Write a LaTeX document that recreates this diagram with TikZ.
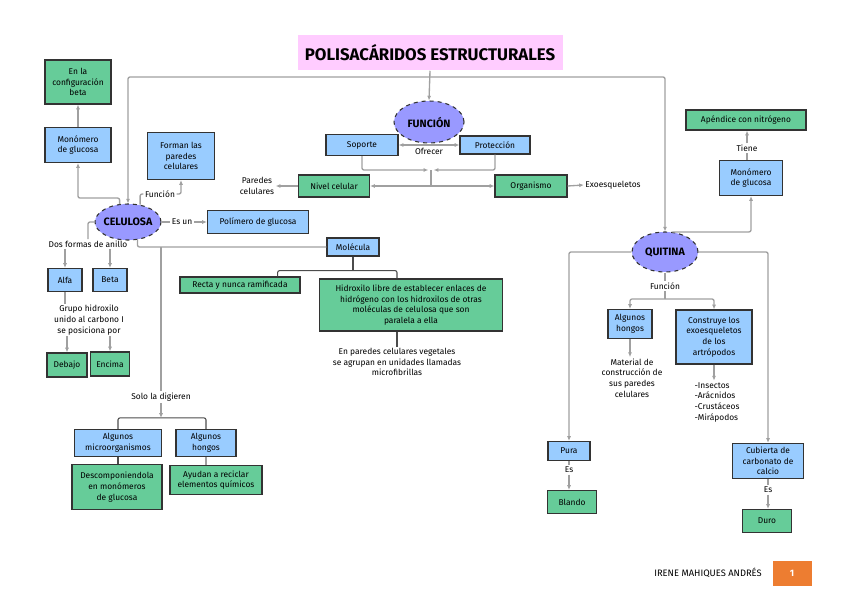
\documentclass[tikz,border=0pt]{standalone}
\usepackage{fontspec}
\setmainfont{Fira Sans}
\usetikzlibrary{positioning,shapes.geometric,arrows.meta}

\definecolor{azul}{HTML}{99CCFF}
\definecolor{verde}{HTML}{66CC99}
\definecolor{lila}{HTML}{9999FF}
\definecolor{rosa}{HTML}{FFCCFF}
\definecolor{naranja}{HTML}{ED7D31}
\definecolor{linea}{HTML}{A0A0A0}

\tikzset{
  caja/.style={draw=black!80, line width=0.9pt, rectangle, align=center, inner sep=1pt, font=\fontsize{6.3}{8}\selectfont},
  azulbox/.style={caja, fill=azul},
  verdebox/.style={caja, fill=verde},
  elipse/.style={ellipse, draw=black!80, dashed, line width=0.8pt, fill=lila, inner sep=0pt, font=\fontsize{8}{9}\selectfont\bfseries},
  etiqueta/.style={align=center, inner sep=1pt, font=\fontsize{6.3}{8}\selectfont},
  conector/.style={draw=linea, line width=1pt, rounded corners=1.5pt},
  oscuro/.style={conector, draw=black!70, line width=0.8pt},
  flecha/.style={conector, -{Latex[length=3.5pt,width=3pt]}},
  dflecha/.style={conector, {Latex[length=3.5pt,width=3pt]}-{Latex[length=3.5pt,width=3pt]}},
}

\begin{document}
\begin{tikzpicture}[x=0.75pt, y=-0.75pt]
    \useasboundingbox (0,0) rectangle (848,599);

    % Title
    \node[fill=rosa, minimum width=198.75pt, minimum height=26.25pt, font=\fontsize{12.6}{13}\selectfont\bfseries] (title) at (430,53) {POLISACÁRIDOS ESTRUCTURALES};

    % Function
    \node[elipse, minimum width=52.5pt, minimum height=31.5pt] (funcion) at (429,122) {\makebox[0pt]{FUNCIÓN}};
    \node[azulbox, minimum width=54pt, minimum height=15.75pt] (soporte) at (362,145) {Soporte};
    \node[azulbox, minimum width=52.5pt, minimum height=13.5pt] (proteccion) at (495,145) {Protección};
    \node[verdebox, minimum width=53.25pt, minimum height=16.5pt] (nivel) at (334,186) {Nivel celular};
    \node[verdebox, minimum width=54pt, minimum height=16.5pt] (organismo) at (531,186) {Organismo};
    \node[etiqueta] (paredes) at (257,186) {Paredes\\celulares};
    \node[etiqueta] (exoesq) at (613,185) {Exoesqueletos};

    % Cellulose
    \node[elipse, minimum width=49.5pt, minimum height=27pt] (celulosa) at (128,222) {\makebox[0pt]{CELULOSA}};
    \node[azulbox, minimum width=49.5pt, minimum height=26.25pt] (monoC) at (78,145) {Monómero\\de glucosa};
    \node[verdebox, minimum width=49.5pt, minimum height=33pt] (configbeta) at (78,82) {En la\\configuración\\beta};
    \node[azulbox, minimum width=50.25pt, minimum height=35.25pt] (forman) at (181,156) {Forman las\\paredes\\celulares};
    \node[etiqueta] (funcionC) at (160,194) {Función};
    \node[etiqueta] (esun) at (182,222) {Es un};
    \node[azulbox, minimum width=75.75pt, minimum height=17.25pt] (polimero) at (258,222) {Polímero de glucosa};

    % Molecule
    \node[azulbox, minimum width=39pt, minimum height=13.5pt] (molecula) at (353,247) {Molécula};
    \node[verdebox, minimum width=90pt, minimum height=12pt] (recta) at (240,285) {Recta y nunca ramificada};
    \node[verdebox, minimum width=137.25pt, minimum height=39pt] (hidroxilo) at (411,305) {Hidroxilo libre de establecer enlaces de\\hidrógeno con los hidroxilos de otras\\moléculas de celulosa que son\\paralela a ella};
    \node[etiqueta] (microfib) at (397,362) {En paredes celulares vegetales\\se agrupan en unidades llamadas\\microfibrillas};

    % Ring forms
    \node[etiqueta] (anillo) at (88,244) {Dos formas de anillo};
    \node[azulbox, minimum width=25.5pt, minimum height=17.25pt] (alfa) at (65,280) {Alfa};
    \node[azulbox, minimum width=25.5pt, minimum height=17.25pt] (betaB) at (110,280) {Beta};
    \node[etiqueta] (grupo) at (89,320) {Grupo hidroxilo\\unido al carbono I\\se posiciona por};
    \node[verdebox, minimum width=30pt, minimum height=18pt] (debajo) at (67,365) {Debajo};
    \node[verdebox, minimum width=29.25pt, minimum height=18pt] (encima) at (110,364) {Encima};

    % Digestion
    \coordinate (bajada) at (161,247);
    \node[etiqueta] (digieren) at (161,397) {Solo la digieren};
    \node[azulbox, minimum width=65.25pt, minimum height=20.25pt] (micro) at (118,443) {Algunos\\microorganismos};
    \node[azulbox, minimum width=45pt, minimum height=20.25pt] (hongosC) at (206,443) {Algunos\\hongos};
    \node[verdebox, minimum width=67.5pt, minimum height=33.75pt] (descomp) at (117,487) {Descomponiendola\\en monómeros\\de glucosa};
    \node[verdebox, minimum width=69pt, minimum height=21.75pt] (reciclar) at (216,480) {Ayudan a reciclar\\elementos químicos};

    % Chitin
    \node[elipse, minimum width=49.5pt, minimum height=30pt] (quitina) at (665,252) {\makebox[0pt]{QUITINA}};
    \node[azulbox, minimum width=47.25pt, minimum height=26.25pt] (monoQ) at (751,178) {Monómero\\de glucosa};
    \node[etiqueta] (tiene) at (747,148) {Tiene};
    \node[verdebox, minimum width=90pt, minimum height=15pt] (apendice) at (746,120) {Apéndice con nitrógeno};
    \node[etiqueta] (funcionQ) at (665,286) {Función};
    \node[azulbox, minimum width=33pt, minimum height=21.75pt] (hongosQ) at (630,324) {Algunos\\hongos};
    \node[azulbox, minimum width=57pt, minimum height=40.5pt] (construye) at (714,337) {Construye los\\exoesqueletos\\de los\\artrópodos};
    \node[etiqueta] (material) at (632,378) {Material de\\construcción de\\sus paredes\\celulares};
    \node[etiqueta, align=left] (artropodos) at (717,402) {-Insectos\\-Arácnidos\\-Crustáceos\\-Mirápodos};
    \node[azulbox, minimum width=31.5pt, minimum height=14.25pt] (pura) at (569,451) {Pura};
    \node[etiqueta] (esP) at (569,470) {Es};
    \node[verdebox, minimum width=36.75pt, minimum height=17.25pt] (blando) at (572,502) {Blando};
    \node[azulbox, minimum width=53.25pt, minimum height=26.25pt] (cubierta) at (768,461) {Cubierta de\\carbonato de\\calcio};
    \node[etiqueta] (esC) at (768,490) {Es};
    \node[verdebox, minimum width=36.75pt, minimum height=17.25pt] (duro) at (767,521) {Duro};

    % Footer
    \node[font=\fontsize{7}{8}\selectfont] (autor) at (708,573) {IRENE MAHIQUES ANDRÉS};
    \node[fill=naranja, text=white, minimum width=29.25pt, minimum height=18.75pt, font=\fontsize{7}{8}\selectfont\bfseries] (pagina) at (792,573) {1};

    % Arrows
    \coordinate (ramal) at (430,77);
    \draw[flecha] (title.south) -- (funcion.north);
    \draw[flecha] (ramal) -| (celulosa.north);
    \draw[flecha] (ramal) -| (quitina.north);
    \draw[dflecha] (soporte) -- (proteccion) node[midway, below=1pt, etiqueta] (ofrecer) {Ofrecer};
    \coordinate (junta) at (431,170);
    \coordinate (cruce) at (431,186);
    \draw[flecha] (soporte.south) |- ([xshift=-2pt]junta);
    \draw[flecha] (proteccion.south) |- ([xshift=2pt]junta);
    \draw[conector] (junta) -- (cruce);
    \draw[dflecha] (nivel) -- (organismo);
    \draw[flecha] (nivel.west) -- (paredes.east);
    \draw[flecha] (organismo.east) -- (exoesq.west);

    \draw[flecha] (celulosa.115) -- ++(0,-6) -| (monoC.south);
    \draw[flecha] (monoC.north) -- (configbeta.south);
    \draw[conector] (celulosa.55) |- (funcionC.west);
    \draw[flecha] (funcionC.east) -| (forman.south);
    \draw[conector] (celulosa.east) -- (esun.west);
    \draw[flecha] (esun.east) -- (polimero.west);

    \draw[conector] (celulosa.-62) |- (molecula.west);
    \draw[oscuro] (molecula.south) -- ++(0,14) coordinate (rama);
    \draw[oscuro] ([xshift=-17.25pt]recta.north east) |- (rama) -| ([xshift=-10.5pt]hidroxilo.north);
    \draw[oscuro] ([xshift=-10.5pt]hidroxilo.south) -- (microfib.north);

    \draw[conector] (celulosa.west) -| (anillo.north);
    \draw[flecha] (anillo.south -| alfa.north) -- (alfa.north);
    \draw[flecha] (anillo.south -| betaB.north) -- (betaB.north);
    \draw[conector] (alfa.south) -- (alfa.south |- grupo.north);
    \draw[flecha] (grupo.south -| debajo.north) -- (debajo.north);
    \draw[flecha] (grupo.south -| encima.north) -- (encima.north);

    \draw[conector] (bajada) -- (digieren.north);
    \draw[oscuro] (micro.north) -- ++(0,-11) coordinate (barra) -| (hongosC.north);
    \draw[flecha] (digieren.south) -- (digieren.south |- barra);
    \draw[oscuro] (micro.south) -- (micro.south |- descomp.north);
    \draw[conector] (hongosC.south) -- (hongosC.south |- reciclar.north);

    \draw[flecha] (quitina.70) -| (monoQ.south);
    \draw[conector] (monoQ.north -| tiene.south) -- (tiene.south);
    \draw[flecha] (tiene.north) -- (tiene.north |- apendice.south);
    \draw[flecha] (quitina.west) -| (pura.north);
    \draw[conector] (pura.south) -- (esP.north);
    \draw[flecha] (esP.south) -- (esP.south |- blando.north);
    \draw[flecha] (quitina.east) -| (cubierta.north);
    \draw[conector] (cubierta.south) -- (esC.north);
    \draw[flecha] (esC.south) -- (esC.south |- duro.north);
    \draw[conector] (quitina.south) -- (funcionQ.north);
    \draw[conector] (funcionQ.south) -- ++(0,8) coordinate (ramaQ);
    \draw[flecha] (ramaQ) -| (hongosQ.north);
    \draw[flecha] (ramaQ) -| (construye.north);
    \draw[flecha] (hongosQ.south) -- (hongosQ.south |- material.north);
    \draw[flecha] (construye.south) -- (construye.south |- artropodos.north);
\end{tikzpicture}
\end{document}
